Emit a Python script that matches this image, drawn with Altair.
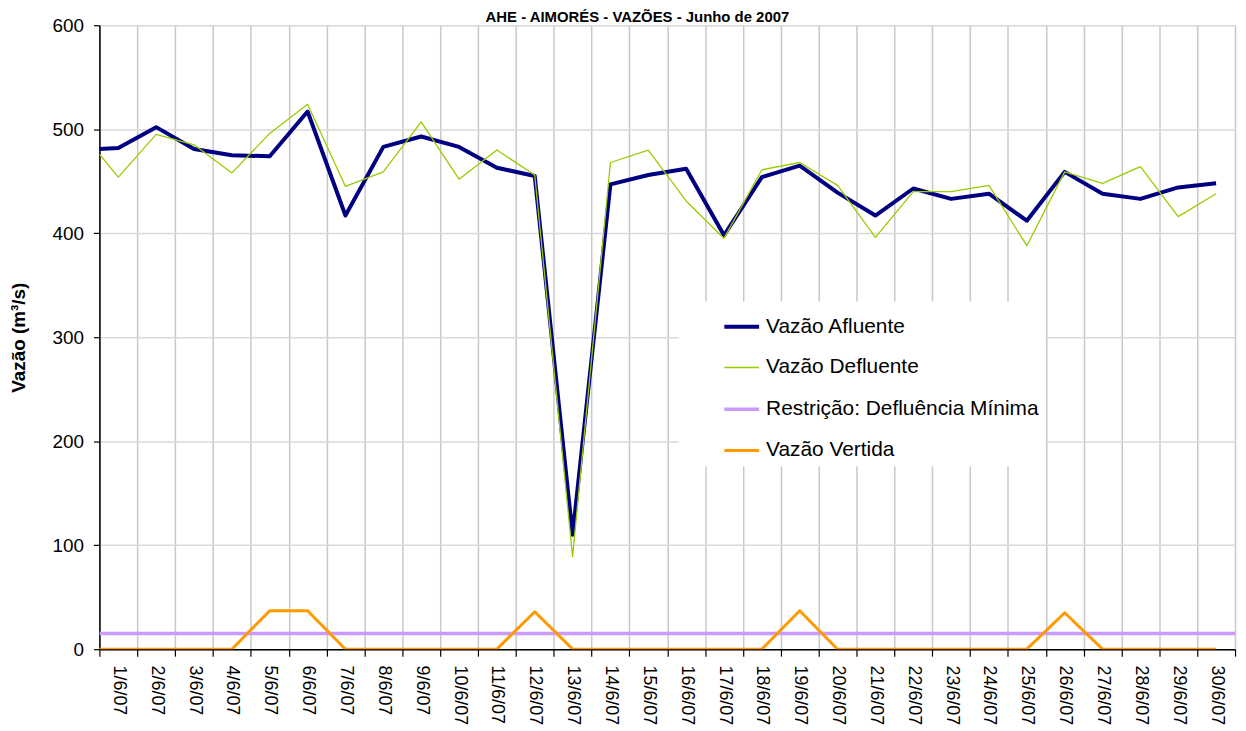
import altair as alt
import pandas as pd

# ---- data ----
dias = list(range(1, 31))
rotulo_sufixo = "/6/07"
series = ["Vazão Afluente", "Vazão Defluente", "Restrição: Defluência Mínima", "Vazão Vertida"]
cores = ["#000080", "#99cc00", "#cc99ff", "#ff9900"]
espessuras = [4, 1.3, 3.5, 3]

afluente_inicio = 481
defluente_inicio = 476
vertida_inicio = 0
afluente = [482, 502, 481, 475, 474, 517, 417, 483, 493, 483,
            463, 455, 110, 447, 456, 462, 398, 454, 465, 439,
            417, 443, 433, 438, 412, 459, 438, 433, 444, 448]
defluente = [454, 495, 485, 458, 496, 524, 445, 459, 507, 452,
             480, 456, 89, 468, 480, 431, 395, 461, 468, 446,
             396, 440, 440, 446, 388, 459, 448, 464, 416, 438]
vertida = [0, 0, 0, 0, 37, 37, 0, 0, 0, 0,
           0, 36, 0, 0, 0, 0, 0, 0, 37, 0,
           0, 0, 0, 0, 0, 35, 0, 0, 0, 0]
restricao = 15

x_ini, x_fim = 0.5, 30.5
y_ticks = [0, 100, 200, 300, 400, 500, 600]

rows = []
rows.append({"x": x_ini, "valor": afluente_inicio, "serie": series[0]})
rows += [{"x": d, "valor": v, "serie": series[0]} for d, v in zip(dias, afluente)]
rows.append({"x": x_ini, "valor": defluente_inicio, "serie": series[1]})
rows += [{"x": d, "valor": v, "serie": series[1]} for d, v in zip(dias, defluente)]
rows += [{"x": x_ini, "valor": restricao, "serie": series[2]},
         {"x": x_fim, "valor": restricao, "serie": series[2]}]
rows.append({"x": x_ini, "valor": vertida_inicio, "serie": series[3]})
rows += [{"x": d, "valor": v, "serie": series[3]} for d, v in zip(dias, vertida)]
df = pd.DataFrame(rows)

FONT = "Liberation Sans"
x_vals = [i / 2 for i in range(1, 62)]

legend = alt.Legend(
    title=None, orient="none", legendX=583, legendY=278,
    fillColor="white", padding=6, symbolType="stroke", symbolSize=1225,
    rowPadding=12, labelFontSize=21, labelFont=FONT, labelColor="black",
    symbolOffset=38, labelOffset=5, labelLimit=500,
)

chart = alt.Chart(df).mark_line(strokeJoin="round", clip=True).encode(
    x=alt.X("x:Q",
            scale=alt.Scale(domain=[x_ini, x_fim], nice=False, zero=False),
            axis=alt.Axis(
                values=x_vals, title=None,
                labelExpr=f"datum.value % 1 === 0 ? datum.value + '{rotulo_sufixo}' : ''",
                labelAngle=90, labelAlign="left", labelBaseline="middle",
                labelFontSize=18, labelFont=FONT, labelColor="black",
                labelPadding=9, labelOverlap=False, labelFlush=False,
                tickSize=7, tickColor="black", tickWidth=1.2,
                tickOpacity={"condition": {"test": "datum.value % 1 !== 0", "value": 1}, "value": 0},
                grid=True, gridColor="#c8c8c8", gridWidth=1.5,
                gridOpacity={"condition": {"test": "datum.value % 1 !== 0", "value": 1}, "value": 0},
                domainColor="black", domainWidth=1.5,
            )),
    y=alt.Y("valor:Q",
            scale=alt.Scale(domain=[0, 600], nice=False),
            axis=alt.Axis(
                values=y_ticks, title="Vazão (m³/s)",
                titleFont=FONT, titleFontSize=19, titleFontWeight="bold", titleColor="black",
                titlePadding=24,
                labelFontSize=19, labelFont=FONT, labelColor="black", labelPadding=10,
                tickSize=6, tickColor="black", tickWidth=1.2,
                grid=True, gridColor="#d9d9d9", gridWidth=1.5,
                domainColor="black", domainWidth=1.5,
            )),
    color=alt.Color("serie:N", scale=alt.Scale(domain=series, range=cores), legend=legend),
    strokeWidth=alt.StrokeWidth("serie:N",
                                scale=alt.Scale(type="ordinal", domain=series, range=espessuras),
                                legend=legend),
).properties(
    width=1143, height=628,
    title=alt.TitleParams("AHE - AIMORÉS - VAZÕES - Junho de 2007", font=FONT, fontSize=15,
                          fontWeight="bold", color="black", anchor="middle", dx=-30,
                          offset=2, dy=11),
    autosize=alt.AutoSizeParams(type="none"),
    padding={"left": 92, "top": 15, "right": 3, "bottom": 80},
).configure_view(
    stroke="#a0a0a0", strokeWidth=1.5
).configure(background="white")

chart.save("out.html", embed_options={"renderer": "svg", "actions": False})
